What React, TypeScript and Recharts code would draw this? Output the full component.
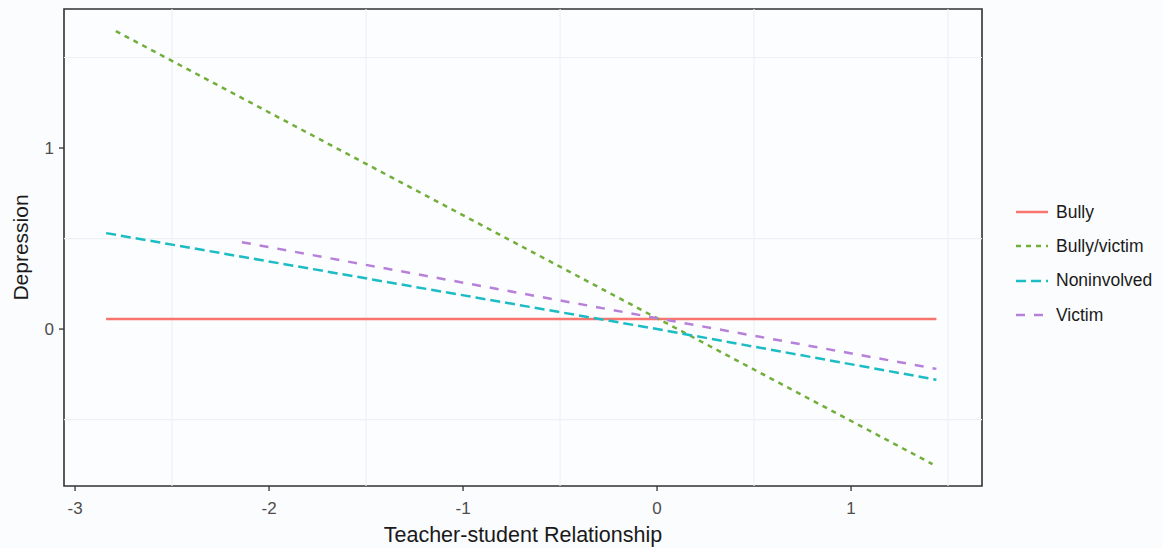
import React from "react";
import {
  LineChart,
  Line,
  XAxis,
  YAxis,
  CartesianGrid,
  ReferenceLine,
  ReferenceArea,
} from "recharts";

// values (endpoints of the fitted lines + value near x=0)
const bullyX = [-2.84, 0, 1.44];
const bullyY = [0.055, 0.055, 0.055];

const bullyVictimX = [-2.79, 0, 1.42];
const bullyVictimY = [1.646, 0.06, -0.746];

const noninvolvedX = [-2.84, 0, 1.44];
const noninvolvedY = [0.53, 0.0, -0.28];

const victimX = [-2.14, 0, 1.44];
const victimY = [0.48, 0.06, -0.22];

const X_TICKS = [-3, -2, -1, 0, 1];
const Y_TICKS = [0, 1];
const X_MINOR = [-2.5, -1.5, -0.5, 0.5, 1.5];
const Y_MINOR = [-0.5, 0.5, 1.5];
const X_DOMAIN = [-3.057, 1.675];
const Y_DOMAIN = [-0.867, 1.768];

const FONT = '"Liberation Sans", Arial, sans-serif';

const toRows = (xs: number[], ys: number[]) => xs.map((x, i) => ({ x, y: ys[i] }));

const SERIES = [
  { name: "Bully", color: "#F8766D", dash: undefined, data: toRows(bullyX, bullyY) },
  { name: "Bully/victim", color: "#72AE3A", dash: "5 5", data: toRows(bullyVictimX, bullyVictimY) },
  { name: "Noninvolved", color: "#1BBCC4", dash: "10 5", data: toRows(noninvolvedX, noninvolvedY) },
  { name: "Victim", color: "#B781DA", dash: "9 9", data: toRows(victimX, victimY) },
];

function LegendBox() {
  return (
    <div
      style={{
        position: "absolute",
        left: 1006,
        top: 195,
        fontFamily: FONT,
        fontSize: 17.5,
        color: "#1a1a1a",
      }}
    >
      {SERIES.map((s) => (
        <div key={s.name} style={{ display: "flex", alignItems: "center", height: 34.3 }}>
          <svg width={44} height={10} style={{ marginRight: 6 }}>
            <line x1={10} y1={5} x2={42} y2={5} stroke={s.color} strokeWidth={2.5} strokeDasharray={s.dash} />
          </svg>
          <span>{s.name}</span>
        </div>
      ))}
    </div>
  );
}

export default function App() {
  return (
    <div style={{ position: "absolute", left: 0, top: 0, width: 1162, height: 548, background: "#fbfcfe" }}>
      <LineChart width={1162} height={548} margin={{ top: 9, right: 180, left: 0, bottom: 0 }}>
        <ReferenceArea
          x1={X_DOMAIN[0]}
          x2={X_DOMAIN[1]}
          y1={Y_DOMAIN[0]}
          y2={Y_DOMAIN[1]}
          fill="#fcfdfe"
          fillOpacity={1}
          stroke="none"
          ifOverflow="visible"
        />
        <CartesianGrid stroke="#e6eaef" strokeWidth={1.2} />
        {X_MINOR.map((v) => (
          <ReferenceLine key={"xm" + v} x={v} stroke="#eef1f4" strokeWidth={1.2} ifOverflow="hidden" />
        ))}
        {Y_MINOR.map((v) => (
          <ReferenceLine key={"ym" + v} y={v} stroke="#eef1f4" strokeWidth={1.2} ifOverflow="hidden" />
        ))}
        <XAxis
          type="number"
          dataKey="x"
          domain={X_DOMAIN}
          ticks={X_TICKS}
          allowDataOverflow
          height={62}
          tick={{ fontSize: 17, fill: "#4d4d4d", fontFamily: FONT }}
          tickLine={{ stroke: "#333333", strokeWidth: 1.3 }}
          tickSize={5}
          tickMargin={11}
          axisLine={false}
          label={{
            value: "Teacher-student Relationship",
            position: "insideBottom",
            offset: 6,
            style: { fontSize: 21.5, fill: "#1a1a1a", fontFamily: FONT },
          }}
        />
        <YAxis
          type="number"
          dataKey="y"
          domain={Y_DOMAIN}
          ticks={Y_TICKS}
          allowDataOverflow
          width={64}
          tick={{ fontSize: 17, fill: "#4d4d4d", fontFamily: FONT }}
          tickLine={{ stroke: "#333333", strokeWidth: 1.3 }}
          tickSize={5}
          tickMargin={5}
          axisLine={false}
          label={{
            value: "Depression",
            angle: -90,
            position: "insideLeft",
            offset: 21,
            style: { fontSize: 21, fill: "#1a1a1a", fontFamily: FONT, textAnchor: "middle" },
          }}
        />
        {SERIES.map((s) => (
          <Line
            key={s.name}
            data={s.data}
            dataKey="y"
            name={s.name}
            type="linear"
            stroke={s.color}
            strokeWidth={2.5}
            strokeDasharray={s.dash}
            dot={false}
            activeDot={false}
            isAnimationActive={false}
          />
        ))}
        <ReferenceArea
          x1={X_DOMAIN[0]}
          x2={X_DOMAIN[1]}
          y1={Y_DOMAIN[0]}
          y2={Y_DOMAIN[1]}
          fill="none"
          stroke="#333333"
          strokeWidth={1.6}
          ifOverflow="visible"
        />
      </LineChart>
      <LegendBox />
    </div>
  );
}
